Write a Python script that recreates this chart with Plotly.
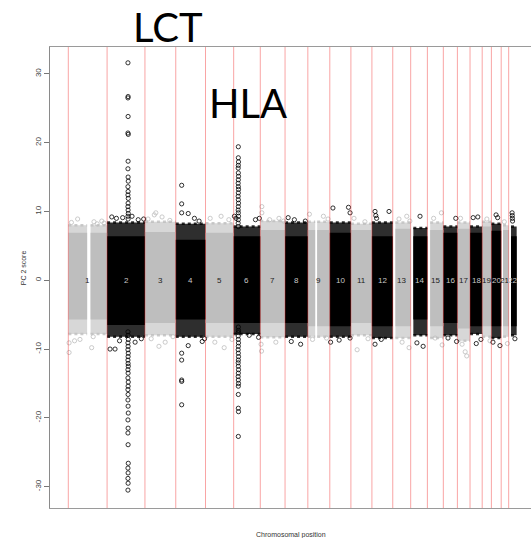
import plotly.graph_objects as go

# ---------------- data ----------------
chrom_names = [str(i) for i in range(1, 23)]
chrom_len = [249.25, 243.2, 198.0, 191.15, 180.9, 171.1, 159.1, 146.4, 141.2, 135.5, 135.0,
             133.9, 115.2, 107.3, 102.5, 90.4, 81.2, 78.1, 59.1, 63.0, 48.1, 51.3]
data_start = [0.6, 0, 0, 0, 0, 0, 0, 0, 0, 0, 0, 0, 17, 17, 18, 0, 0, 0, 0, 0, 12, 15]
gap_chr = [1, 9]
gap_from = [121, 47]
gap_to = [143, 60]

core_hi = [6.9, 6.4, 7.0, 5.9, 6.9, 6.4, 7.3, 6.4, 7.3, 6.9, 7.3, 6.4, 7.5, 6.4, 7.3, 6.9, 7.5, 6.9, 7.8, 7.2, 7.3, 6.4]
core_lo = [-5.7, -6.5, -6.2, -5.7, -6.2, -6.2, -6.2, -6.2, -6.7, -6.7, -6.2, -6.7, -6.7, -5.7, -6.7, -6.2, -7.0, -6.7, -6.7, -6.7, -6.7, -6.7]
fringe_hi = [8.0, 8.4, 8.5, 8.2, 8.3, 7.8, 8.6, 8.4, 8.5, 8.4, 8.2, 8.4, 8.4, 7.6, 8.4, 7.8, 8.4, 7.8, 8.5, 8.2, 8.0, 7.8]
fringe_lo = [-7.8, -8.2, -8.0, -8.2, -8.2, -7.8, -8.3, -8.2, -8.2, -8.2, -8.0, -8.4, -8.4, -8.0, -8.4, -8.0, -8.8, -7.8, -8.2, -8.4, -8.2, -8.0]

# outlying SNPs: chromosome, position within chromosome (Mb), PC2 score
lct_pos = [134, 135, 134, 135, 134, 136, 135, 134, 135, 136, 134, 135, 134, 136, 135, 134, 135, 136, 134, 135,
           134, 135, 136, 134, 135, 134, 136, 135, 134, 135, 136, 134, 135, 134, 136, 135, 134, 135, 134, 135,
           136, 134, 135, 134, 135, 136, 134, 135, 134, 135, 134]
lct_val = [31.6, 26.7, 26.5, 23.8, 21.4, 21.2, 17.3, 16.2, 15.0, 14.4, 13.6, 12.9, 12.4, 11.9, 11.2, 10.7, 10.2, 9.7, 9.3, 8.9,
           -7.5, -8.0, -8.6, -9.1, -9.6, -10.1, -10.6, -11.1, -11.6, -12.1, -12.5, -13.0, -13.5, -14.2, -14.8, -15.4, -15.9, -16.6, -17.4, -18.3,
           -19.3, -20.3, -21.5, -22.2, -23.9, -26.6, -27.3, -28.0, -28.8, -29.5, -30.5]
hla_pos = [30, 30, 31, 30, 29, 30, 31, 30, 29, 30, 31, 30, 29, 30, 31, 30, 29, 30, 31, 30, 29, 30,
           30, 31, 30, 29, 30, 31, 30, 29, 30, 31, 30, 29, 30, 31, 30, 29, 30, 31, 30, 30, 30, 31, 30]
hla_val = [19.4, 17.8, 17.2, 16.7, 16.3, 15.6, 15.1, 14.6, 14.1, 13.6, 13.2, 12.7, 12.2, 11.7, 11.2, 10.7, 10.2, 9.8, 9.3, 8.8, 8.3, 7.8,
           -6.8, -7.3, -7.6, -8.1, -8.6, -9.1, -9.6, -10.1, -10.6, -11.1, -11.6, -12.0, -12.5, -13.0, -13.5, -14.0, -14.5, -15.0, -15.4,
           -16.6, -18.6, -19.1, -22.7]

out_chr = [1, 1, 1, 1, 1, 1, 1, 1, 1, 1, 1, 1,
           2, 2, 2, 2, 2, 2, 2, 2, 2, 2, 2,
           3, 3, 3, 3, 3, 3, 3, 3, 3,
           4, 4, 4, 4, 4, 4, 4, 4, 4, 4, 4, 4, 4, 4,
           5, 5, 5, 5, 5, 5,
           6, 6, 6, 6, 6, 6,
           7, 7, 7, 7, 7, 7, 7, 7,
           8, 8, 8, 8, 8,
           9, 9, 9, 9, 9,
           10, 10, 10, 10, 10, 10,
           11, 11, 11, 11,
           12, 12, 12, 12, 12, 12,
           13, 13, 13, 13, 13,
           14, 14, 14,
           15, 15, 15, 15,
           16, 16, 16,
           17, 17, 17, 17,
           18, 18, 18, 18,
           19, 19,
           20, 20, 20, 20,
           21, 21,
           22, 22, 22, 22, 22]
out_pos = [5, 5, 40, 75, 150, 160, 215, 20, 60, 165, 185, 230,
           19, 51, 30, 60, 100, 160, 200, 235, 80, 180, 220,
           20, 60, 70, 110, 160, 40, 90, 130, 180,
           38, 38, 38, 38, 38, 38, 38, 38, 80, 80, 120, 150, 170, 185,
           30, 100, 150, 60, 120, 170,
           5, 15, 140, 165, 100, 160,
           10, 10, 5, 8, 60, 120, 150, 100,
           20, 60, 130, 40, 100,
           10, 100, 130, 30, 120,
           20, 120, 130, 5, 60, 130,
           20, 90, 40, 110,
           20, 25, 30, 110, 60, 20,
           40, 90, 110, 60, 105,
           60, 40, 80,
           40, 90, 50, 95,
           80, 30, 85,
           20, 50, 60, 30,
           20, 50, 40, 70,
           30, 50,
           30, 40, 10, 55,
           20, 40,
           22, 23, 24, 25, 40]
out_val = [-10.5, -9.1, -8.8, -8.6, -9.8, -8.2, 8.6, 8.4, 8.9, 8.5, 8.2, 8.3,
           -10.0, -10.0, 9.2, 9.0, 9.1, 9.3, 8.8, 8.9, -8.8, -9.0, -8.5,
           8.9, 9.5, 9.8, 9.2, 8.7, -8.5, -9.6, -9.0, -8.2,
           13.8, 11.1, 9.8, -10.6, -11.6, -14.5, -14.7, -18.1, 9.7, -9.5, 9.0, 8.6, -8.9, -8.5,
           9.0, 9.3, 8.8, -9.0, -9.8, -8.6,
           9.3, 9.0, 8.8, 9.0, -8.0, -8.3,
           10.7, 9.8, -9.3, -10.3, 8.8, 9.0, 8.6, -9.0,
           9.1, 8.8, 8.6, -8.9, -9.3,
           9.6, 9.3, 8.9, -8.6, -8.4,
           10.5, 10.6, 9.8, -9.0, -8.7, -8.4,
           9.0, 8.5, -10.1, -8.5,
           10.0, 9.4, 9.0, 10.0, -8.6, -9.3,
           8.9, 9.3, 8.6, -9.0, -9.8,
           9.3, -9.1, -9.6,
           9.0, 9.8, -8.4, -9.4,
           9.0, -8.4, -8.9,
           9.0, -10.4, -11.0, -9.3,
           9.1, 9.2, -9.2, -8.6,
           8.9, -8.8,
           9.5, 9.1, -9.0, -9.5,
           8.5, -9.2,
           9.8, 9.4, 9.0, 8.6, -8.5]

y_ticks = [-30, -20, -10, 0, 10, 20, 30]

# ---------------- derived ----------------
GRAY = "#bebebe"
BLACK = "#000000"
offset = []
acc = 0.0
for L in chrom_len:
    offset.append(acc)
    acc += L


def segments(i):
    c = i + 1
    a, b = data_start[i], chrom_len[i]
    segs = [(a, b)]
    for gc, g0, g1 in zip(gap_chr, gap_from, gap_to):
        if gc == c:
            segs = [(a, g0), (g1, b)]
    return [(offset[i] + s, offset[i] + e) for s, e in segs]


def band(indices, lo, hi):
    xs, ys = [], []
    for i in indices:
        for s, e in segments(i):
            xs += [s, e, e, s, s, None]
            ys += [lo[i], lo[i], hi[i], hi[i], lo[i], None]
    return xs, ys


def edges(indices, lo, hi):
    xs, ys = [], []
    for i in indices:
        for s, e in segments(i):
            xs += [s, e, None, s, e, None]
            ys += [hi[i], hi[i], None, lo[i], lo[i], None]
    return xs, ys


fig = go.Figure()
gray_idx = [i for i in range(22) if i % 2 == 0]
black_idx = [i for i in range(22) if i % 2 == 1]

# sparse fringe of the SNP cloud
for idx, fc, lc in [(gray_idx, "rgba(190,190,190,0.62)", "rgba(190,190,190,0.8)"),
                    (black_idx, "rgba(0,0,0,0.82)", "rgba(0,0,0,0.8)")]:
    xs, ys = band(idx, fringe_lo, fringe_hi)
    fig.add_trace(go.Scatter(x=xs, y=ys, mode="lines", fill="toself", fillcolor=fc,
                             line=dict(width=0), hoverinfo="skip", showlegend=False))
    ex, ey = edges(idx, fringe_lo, fringe_hi)
    fig.add_trace(go.Scatter(x=ex, y=ey, mode="lines", line=dict(width=2.5, color=lc, dash="dot"),
                             hoverinfo="skip", showlegend=False))
# dense core
for idx, fc in [(gray_idx, GRAY), (black_idx, BLACK)]:
    xs, ys = band(idx, core_lo, core_hi)
    fig.add_trace(go.Scatter(x=xs, y=ys, mode="lines", fill="toself", fillcolor=fc,
                             line=dict(width=0), hoverinfo="skip", showlegend=False))

# outlier points
pts_chr = out_chr + [2] * len(lct_pos) + [6] * len(hla_pos)
pts_pos = out_pos + lct_pos + hla_pos
pts_val = out_val + lct_val + hla_val
for parity, col in [(1, GRAY), (0, BLACK)]:
    xs = [offset[c - 1] + p for c, p, v in zip(pts_chr, pts_pos, pts_val) if c % 2 == parity]
    ys = [v for c, p, v in zip(pts_chr, pts_pos, pts_val) if c % 2 == parity]
    fig.add_trace(go.Scatter(x=xs, y=ys, mode="markers",
                             marker=dict(symbol="circle-open", size=4.2, color=col, line=dict(width=0.8, color=col)),
                             hoverinfo="skip", showlegend=False))

# chromosome boundary lines
for i in range(22):
    fig.add_shape(type="line", xref="x", yref="paper", x0=offset[i], x1=offset[i], y0=0, y1=1,
                  line=dict(color="rgba(240,40,40,0.42)", width=1), layer="above")

# chromosome labels
for i in range(22):
    fig.add_annotation(x=offset[i] + chrom_len[i] / 2, y=0, xref="x", yref="y", text=chrom_names[i],
                       showarrow=False, font=dict(family="Liberation Sans, Arial", size=8,
                                                  color="#222" if i % 2 == 0 else "#c8c8c8"))

# big gene labels
fig.add_annotation(x=0.246, y=1.043, xref="paper", yref="paper", text="LCT", showarrow=False,
                   font=dict(family="Lato", size=40, color="black"), yanchor="middle", xanchor="center")
fig.add_annotation(x=0.412, y=0.879, xref="paper", yref="paper", text="HLA", showarrow=False,
                   font=dict(family="Lato", size=40, color="black"), yanchor="middle", xanchor="center")

# axis titles
fig.add_annotation(x=0.5, y=0, xref="paper", yref="paper", yshift=-27, text="Chromosomal position",
                   showarrow=False, font=dict(family="Liberation Sans, Arial", size=7, color="#333"),
                   xanchor="center", yanchor="middle")
fig.add_annotation(x=0, y=0.52, xref="paper", yref="paper", xshift=-27, text="PC 2 score", textangle=-90,
                   showarrow=False, font=dict(family="Liberation Sans, Arial", size=7, color="#333"),
                   xanchor="center", yanchor="middle")

fig.update_layout(
    width=531, height=538,
    margin=dict(l=50, r=0, t=47, b=30),
    paper_bgcolor="white", plot_bgcolor="white",
    showlegend=False,
    xaxis=dict(range=[-117.6, 2973], showgrid=False, zeroline=False, showticklabels=False, ticks="",
               showline=True, mirror=True, linecolor="#9a9a9a", linewidth=1),
    yaxis=dict(range=[-33.1, 33.9], tickvals=y_ticks, ticktext=[str(t) for t in y_ticks],
               showgrid=False, zeroline=False, ticks="outside", ticklen=5, tickcolor="#777", tickwidth=1,
               tickangle=-90, tickfont=dict(family="Liberation Sans, Arial", size=8, color="#444"),
               showline=True, linecolor="#8a8a8a", linewidth=1),
)

fig.write_html("out.html")
